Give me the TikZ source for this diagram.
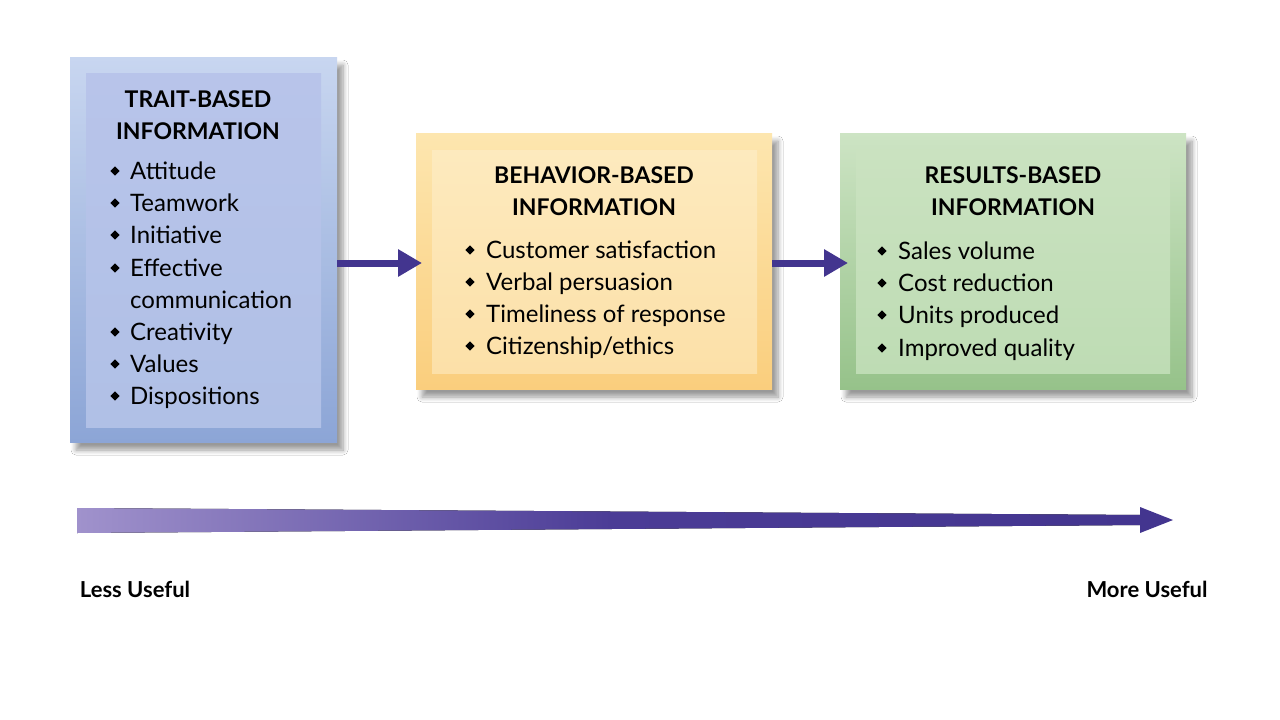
\documentclass[tikz,border=0pt]{standalone}
\usepackage{fontspec}
\setmainfont{Lato}
\usetikzlibrary{shadows.blur,calc,arrows.meta}
\definecolor{arr}{HTML}{43358F}
\tikzset{
  outerbox/.style={blur shadow={shadow xshift=6pt,shadow yshift=-8pt,shadow blur steps=8,shadow blur radius=5pt,shadow opacity=40}},
  ttl/.style={font=\fontsize{23}{28}\selectfont\bfseries,anchor=base,inner sep=0pt},
  itm/.style={font=\fontsize{24}{28}\selectfont,anchor=base west,inner sep=0pt},
  bul/.style={fill=black,minimum size=6.5pt,inner sep=0pt,rotate=45,draw=none},
  lbl/.style={font=\fontsize{22}{26}\selectfont\bfseries,anchor=base,inner sep=0pt},
  link/.style={draw=arr,line width=7pt,-{Triangle[length=24pt,width=26pt]}}
}
\begin{document}
\begin{tikzpicture}[x=1pt,y=-1pt]
\fill[white] (0,0) rectangle (1280,720);
\useasboundingbox (0,0) rectangle (1280,720);
% boxes
\path[outerbox,top color={rgb,255:red,200;green,214;blue,240},bottom color={rgb,255:red,140;green,165;blue,214}] (70,57) rectangle (337,442);
\fill[top color={rgb,255:red,184;green,196;blue,234},bottom color={rgb,255:red,176;green,192;blue,230}] (86,73) rectangle (321,427);
\node[coordinate] (t) at (337,263) {};
\path[outerbox,top color={rgb,255:red,253;green,230;blue,175},bottom color={rgb,255:red,250;green,206;blue,125}] (416,133) rectangle (772,389);
\fill[top color={rgb,255:red,253;green,234;blue,190},bottom color={rgb,255:red,252;green,224;blue,168}] (432,150) rectangle (757,373);
\path[outerbox,top color={rgb,255:red,205;green,228;blue,196},bottom color={rgb,255:red,150;green,194;blue,138}] (840,133) rectangle (1186,389);
\fill[top color={rgb,255:red,202;green,226;blue,192},bottom color={rgb,255:red,190;green,220;blue,180}] (856,150) rectangle (1170,373);
\coordinate (b1) at (416,263); \coordinate (b2) at (772,263); \coordinate (r1) at (848,263);
\draw[link] (t) -- ($(b1)+(6,0)$);
\draw[link] (b2) -- (r1);
% text trait
\node[ttl] (t1) at (198,107) {TRAIT-BASED};
\node[ttl] (t2) at (198,139) {INFORMATION};
\foreach \y/\s [count=\i] in {179/Attitude,211/Teamwork,243/Initiative,276/Effective,308/communication,340/Creativity,372/Values,404/Dispositions}{
  \node[itm] (ti\i) at (130,\y) {\s};
}
\foreach \y in {171,203,235,268,332,364,396}{\node[bul] at (115,\y) {};}
% behavior
\node[ttl] (bt1) at (594,183) {BEHAVIOR-BASED};
\node[ttl] (bt2) at (594,215) {INFORMATION};
\foreach \y/\s [count=\i] in {258/{Customer satisfaction},290/{Verbal persuasion},322/{Timeliness of response},354/{Citizenship/ethics}}{
  \node[itm] (bi\i) at (486,\y) {\s};
  \node[bul] at (470,\y-8) {};
}
% results
\node[ttl] (rt1) at (1013,183) {RESULTS-BASED};
\node[ttl] (rt2) at (1013,215) {INFORMATION};
\foreach \y/\s [count=\i] in {259/Sales volume,291/Cost reduction,323/Units produced,356/Improved quality}{
  \node[itm] (ri\i) at (898,\y) {\s};
  \node[bul] at (882,\y-8) {};
}
% bottom arrow
\fill[left color={rgb,255:red,160;green,146;blue,204},right color=arr,middle color={rgb,255:red,75;green,60;blue,150}] (77,508) -- (1145,515) -- (1145,525) -- (77,533) -- cycle;
\fill[arr] (1140,507) -- (1173,520) -- (1140,533) -- cycle;
\node[lbl] (less) at (135,597) {Less Useful};
\node[lbl] (more) at (1147,597) {More Useful};
\end{tikzpicture}
\end{document}
